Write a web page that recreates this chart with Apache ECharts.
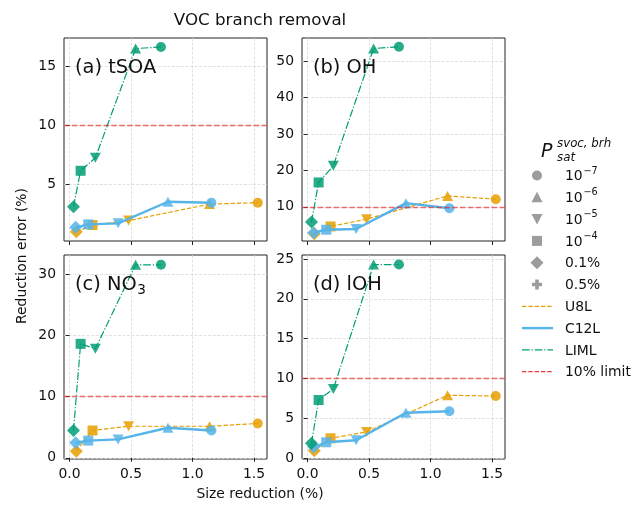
<!DOCTYPE html>
<html>
<head>
<meta charset="utf-8">
<script src="https://cdn.jsdelivr.net/npm/echarts@6/dist/echarts.min.js"></script>
<style>
  html, body { margin: 0; padding: 0; background: #fff; }
  #chart { width: 636px; height: 505px; }
</style>
</head>
<body>
<div id="chart"></div>
<script>
// Saturation-pressure threshold of each point, in the order points are listed
const pointThresholds = ['0.1%', '1e-4', '1e-5', '1e-6', '1e-7'];

// Size reduction (%) per mechanism
const sizeU8L  = [0.055, 0.187, 0.48, 1.138, 1.53];
const sizeC12L = [0.05, 0.152, 0.395, 0.80, 1.153];
const sizeLIML = [0.032, 0.09, 0.21, 0.537, 0.743];

// Reduction error (%) — tSOA
const tsoaU8L  = [0.96, 1.53, 1.9, 3.3, 3.42];
const tsoaC12L = [1.33, 1.58, 1.67, 3.5, 3.42];
const tsoaLIML = [3.08, 6.13, 7.23, 16.5, 16.64];

// Reduction error (%) — OH
const ohU8L  = [2.6, 4.6, 6.6, 13.0, 12.1];
const ohC12L = [2.9, 3.7, 3.9, 11.0, 9.6];
const ohLIML = [5.8, 16.7, 21.3, 53.5, 54.0];

// Reduction error (%) — NO3
const no3U8L  = [1.08, 4.45, 5.15, 5.15, 5.6];
const no3C12L = [2.45, 2.8, 3.0, 4.9, 4.45];
const no3LIML = [4.45, 18.6, 17.8, 31.5, 31.5];

// Reduction error (%) — lOH
const lohU8L  = [0.92, 2.5, 3.3, 7.9, 7.8];
const lohC12L = [1.4, 2.0, 2.25, 5.7, 5.9];
const lohLIML = [1.87, 7.3, 8.7, 24.3, 24.3];

// Panel titles: main text and optional subscript
const panelLabels = [['(a) tSOA', ''], ['(b) OH', ''], ['(c) NO', '3'], ['(d) lOH', '']];
const xTicks  = [0, 0.5, 1.0, 1.5];
const yTicksA = [5, 10, 15];
const yTicksB = [10, 20, 30, 40, 50];
const yTicksC = [0, 10, 20, 30];
const yTicksD = [0, 5, 10, 15, 20, 25];
const limitPct = 10;

const mechanisms = ['U8L', 'C12L', 'LIML'];
const thresholdLabels = [['10', '−7'], ['10', '−6'], ['10', '−5'], ['10', '−4'], ['0.1%', ''], ['0.5%', '']];

const FONT = 'DejaVu Sans';
const TEXT = '#111';

const COLORS = { U8L: '#E69F00', C12L: '#56B4E9', LIML: '#009E73' };
const LINES = {
  U8L:  { width: 1.2, type: [4.4, 1.9] },
  C12L: { width: 2.4, type: 'solid' },
  LIML: { width: 1.2, type: [7.7, 1.9, 1.2, 1.9] }
};
const SYMBOLS = {
  '1e-7': { symbol: 'circle',   size: 10,      rotate: 0 },
  '1e-6': { symbol: 'triangle', size: [11, 10], rotate: 0 },
  '1e-5': { symbol: 'triangle', size: [11, 10], rotate: 180 },
  '1e-4': { symbol: 'rect',     size: 10,      rotate: 0 },
  '0.1%': { symbol: 'diamond',  size: 13,      rotate: 0 }
};

// Panel frames and axis limits
const panels = [
  { left: 64,  top: 38,  width: 203, height: 203, y: [0.17, 17.4],  yTicks: yTicksA, bottom: false, sizes: [sizeU8L, sizeC12L, sizeLIML], errs: [tsoaU8L, tsoaC12L, tsoaLIML] },
  { left: 302, top: 38,  width: 203, height: 203, y: [0.6, 56.4],   yTicks: yTicksB, bottom: false, sizes: [sizeU8L, sizeC12L, sizeLIML], errs: [ohU8L, ohC12L, ohLIML] },
  { left: 64,  top: 255, width: 203, height: 204, y: [-0.2, 33.1],  yTicks: yTicksC, bottom: true,  sizes: [sizeU8L, sizeC12L, sizeLIML], errs: [no3U8L, no3C12L, no3LIML] },
  { left: 302, top: 255, width: 203, height: 204, y: [-0.1, 25.5],  yTicks: yTicksD, bottom: true,  sizes: [sizeU8L, sizeC12L, sizeLIML], errs: [lohU8L, lohC12L, lohLIML] }
];
const X_RANGE = [-0.045, 1.605];

const gridLine = { show: true, lineStyle: { color: '#d9d9d9', width: 0.8, type: [3, 1.5] } };

const grids = [], xAxes = [], yAxes = [], series = [];

panels.forEach((p, k) => {
  grids.push({
    left: p.left, top: p.top, width: p.width, height: p.height,
    show: true, borderColor: '#222', borderWidth: 1, backgroundColor: 'transparent'
  });
  xAxes.push({
    type: 'value', gridIndex: k, min: X_RANGE[0], max: X_RANGE[1],
    axisLine: { show: false },
    axisTick: { show: true, customValues: xTicks, length: 4, lineStyle: { color: '#222' } },
    axisLabel: {
      show: p.bottom, customValues: xTicks, margin: 8,
      formatter: v => v.toFixed(1), fontFamily: FONT, fontSize: 13.9, color: TEXT
    },
    splitLine: gridLine
  });
  yAxes.push({
    type: 'value', gridIndex: k, min: p.y[0], max: p.y[1],
    axisLine: { show: false },
    axisTick: { show: true, customValues: p.yTicks, length: 4, lineStyle: { color: '#222' } },
    axisLabel: {
      customValues: p.yTicks, margin: 8,
      formatter: v => String(v), fontFamily: FONT, fontSize: 13.9, color: TEXT
    },
    splitLine: gridLine
  });

  mechanisms.forEach((m, j) => {
    const xs = p.sizes[j], ys = p.errs[j];
    const s = {
      type: 'line', name: m, xAxisIndex: k, yAxisIndex: k,
      animation: false, silent: true, z: 2 + j,
      data: xs.map((x, i) => {
        const sym = SYMBOLS[pointThresholds[i]];
        return { value: [x, ys[i]], symbol: sym.symbol, symbolSize: sym.size, symbolRotate: sym.rotate };
      }),
      showSymbol: true,
      lineStyle: { color: COLORS[m], width: LINES[m].width, type: LINES[m].type },
      itemStyle: { color: COLORS[m], opacity: 0.85 },
      emphasis: { disabled: true }
    };
    if (j === 0) {
      s.markLine = {
        silent: true, animation: false, symbol: ['none', 'none'],
        label: { show: false },
        lineStyle: { color: 'rgba(235,35,35,0.65)', type: [5.5, 2.4], width: 1.3 },
        data: [{ yAxis: limitPct }]
      };
    }
    series.push(s);
  });
});

// Text and key drawn on top of the panels
const graphics = [];
const txt = (x, y, text, size, extra) => Object.assign({
  type: 'text', x, y, silent: true, z: 100,
  style: Object.assign({ text, fontFamily: FONT, fontSize: size, fill: TEXT, textAlign: 'left', textVerticalAlign: 'middle' }, extra || {})
});

graphics.push(txt(260, 21, 'VOC branch removal', 16.7, { textAlign: 'center' }));
graphics.push(txt(260, 494, 'Size reduction (%)', 13.9, { textAlign: 'center' }));
graphics.push(Object.assign(txt(22, 256, 'Reduction error (%)', 13.9, { textAlign: 'center' }), { rotation: Math.PI / 2 }));

// Approximate advance of DejaVu Sans glyphs, used to place subscripts after text
const measure = (s, size) => {
  const ctx = document.createElement('canvas').getContext('2d');
  ctx.font = size + 'px "' + FONT + '"';
  return ctx.measureText(s).width;
};

panels.forEach((p, k) => {
  const [main, sub] = panelLabels[k];
  const x0 = p.left + 11, y0 = p.top + 30;
  graphics.push(txt(x0, y0, main, 19.4));
  if (sub) graphics.push(txt(x0 + measure(main, 19.4) + 0.5, y0 + 5, sub, 13.6));
});

// Key: heading with super/subscripts
graphics.push(txt(541, 152, 'P', 19, { fontStyle: 'italic' }));
graphics.push(txt(557, 144, 'svoc, brh', 11.8, { fontStyle: 'italic' }));
graphics.push(txt(557, 158, 'sat', 11.8, { fontStyle: 'italic' }));

const KEY_X = 537, KEY_Y0 = 175.5, KEY_DY = 21.8, KEY_GREY = '#9c9c9c';
const rowY = i => KEY_Y0 + i * KEY_DY;
const keyShapes = [
  y => ({ type: 'circle', shape: { cx: KEY_X, cy: y, r: 5 } }),
  y => ({ type: 'polygon', shape: { points: [[KEY_X - 5.5, y + 5], [KEY_X, y - 5.5], [KEY_X + 5.5, y + 5]] } }),
  y => ({ type: 'polygon', shape: { points: [[KEY_X - 5.5, y - 5], [KEY_X, y + 5.5], [KEY_X + 5.5, y - 5]] } }),
  y => ({ type: 'rect', shape: { x: KEY_X - 5, y: y - 5, width: 10, height: 10 } }),
  y => ({ type: 'polygon', shape: { points: [[KEY_X, y - 6.5], [KEY_X + 6.5, y], [KEY_X, y + 6.5], [KEY_X - 6.5, y]] } }),
  y => ({ type: 'polygon', shape: { points: [
    [KEY_X - 1.8, y - 5], [KEY_X + 1.8, y - 5], [KEY_X + 1.8, y - 1.8], [KEY_X + 5, y - 1.8],
    [KEY_X + 5, y + 1.8], [KEY_X + 1.8, y + 1.8], [KEY_X + 1.8, y + 5], [KEY_X - 1.8, y + 5],
    [KEY_X - 1.8, y + 1.8], [KEY_X - 5, y + 1.8], [KEY_X - 5, y - 1.8], [KEY_X - 1.8, y - 1.8]] } })
];
thresholdLabels.forEach((lab, i) => {
  const y = rowY(i);
  const shp = keyShapes[i](y);
  shp.style = { fill: KEY_GREY };
  shp.silent = true; shp.z = 100;
  graphics.push(shp);
  graphics.push(txt(565, y + 1, lab[0], 13.9));
  if (lab[1]) graphics.push(txt(583.5, y - 4.5, lab[1], 9.7));
});

const keyLines = [
  ['U8L', COLORS.U8L, 1.2, [4.4, 1.9]],
  ['C12L', COLORS.C12L, 2.4, null],
  ['LIML', COLORS.LIML, 1.2, [7.7, 1.9, 1.2, 1.9]],
  ['10% limit', 'rgba(235,20,20,0.85)', 1.3, [4.4, 1.9]]
];
keyLines.forEach((kl, n) => {
  const y = rowY(6 + n);
  graphics.push({
    type: 'line', silent: true, z: 100,
    shape: { x1: 522, y1: y, x2: 553, y2: y },
    style: { stroke: kl[1], lineWidth: kl[2], lineDash: kl[3] }
  });
  graphics.push(txt(565, y + 1, kl[0], 13.9));
});

const chart = echarts.init(document.getElementById('chart'), null, { renderer: 'canvas' });
chart.setOption({
  animation: false,
  backgroundColor: '#ffffff',
  grid: grids,
  xAxis: xAxes,
  yAxis: yAxes,
  series: series,
  graphic: graphics
});
</script>
</body>
</html>
